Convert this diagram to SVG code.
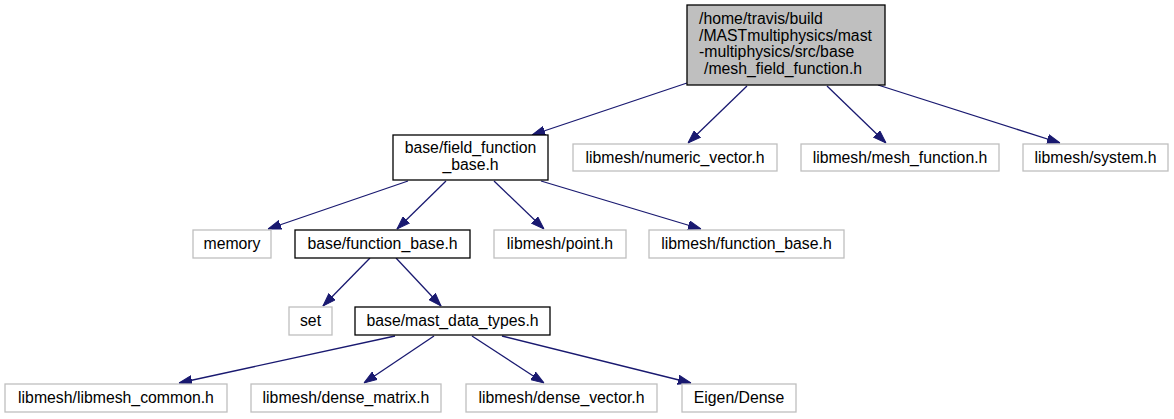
<svg xmlns="http://www.w3.org/2000/svg" width="1174" height="419" viewBox="0 0 1174 419">
<style>
text{font-family:"Liberation Sans",Arial,sans-serif;font-size:15.8px;fill:#000}
.c text{text-anchor:middle}
.g rect{fill:#fff;stroke:#bfbfbf;stroke-width:1.3}
.b rect{fill:#fff;stroke:#000;stroke-width:1.3}
.r rect{fill:#bfbfbf;stroke:#000;stroke-width:1.3}
.e path{fill:none;stroke:#191970;stroke-width:1.3}
</style>
<defs>
<marker id="ah" markerWidth="13" markerHeight="10" refX="13" refY="5" orient="auto" markerUnits="userSpaceOnUse">
<path d="M0,0.5 L13,5 L0,9.5 Z" fill="#191970" stroke="#191970"/>
</marker>
</defs>
<g id="edges" class="e">
<path d="M687,83 L532,135" marker-end="url(#ah)"/>
<path d="M747,86 L688,143" marker-end="url(#ah)"/>
<path d="M827,86 L886,143" marker-end="url(#ah)"/>
<path d="M878,85 L1060,143" marker-end="url(#ah)"/>
<path d="M408,181 L268,229" marker-end="url(#ah)"/>
<path d="M446,181 L397,229" marker-end="url(#ah)"/>
<path d="M494,181 L544,229" marker-end="url(#ah)"/>
<path d="M541,181 L701,229" marker-end="url(#ah)"/>
<path d="M370,258 L323,306" marker-end="url(#ah)"/>
<path d="M396,258 L441,306" marker-end="url(#ah)"/>
<path d="M395,336 L179,383" marker-end="url(#ah)"/>
<path d="M434,336 L364,383" marker-end="url(#ah)"/>
<path d="M472,336 L544,383" marker-end="url(#ah)"/>
<path d="M502,336 L691,383" marker-end="url(#ah)"/>
</g>
<g id="root" class="r">
<rect x="687" y="5" width="198" height="80"/>
<text x="699" y="24">/home/travis/build</text>
<text x="699" y="41">/MASTmultiphysics/mast</text>
<text x="699" y="57">-multiphysics/src/base</text>
<text x="704" y="74">/mesh_field_function.h</text>
</g>
<g id="field_function_base" class="b c">
<rect x="393" y="135" width="155" height="45"/>
<text x="470.5" y="153">base/field_function</text>
<text x="470.5" y="170">_base.h</text>
</g>
<g id="numeric_vector" class="g c">
<rect x="573" y="144" width="204" height="27"/>
<text x="675" y="163">libmesh/numeric_vector.h</text>
</g>
<g id="mesh_function" class="g c">
<rect x="801" y="144" width="198" height="27"/>
<text x="900" y="163">libmesh/mesh_function.h</text>
</g>
<g id="system" class="g c">
<rect x="1023" y="144" width="145" height="27"/>
<text x="1095.5" y="163">libmesh/system.h</text>
</g>
<g id="memory" class="g c">
<rect x="193" y="230" width="78" height="28"/>
<text x="232" y="249">memory</text>
</g>
<g id="function_base" class="b c">
<rect x="295" y="230" width="175" height="28"/>
<text x="382.5" y="249">base/function_base.h</text>
</g>
<g id="point" class="g c">
<rect x="494" y="230" width="132" height="28"/>
<text x="560" y="249">libmesh/point.h</text>
</g>
<g id="libmesh_function_base" class="g c">
<rect x="649" y="230" width="195" height="28"/>
<text x="746.5" y="249">libmesh/function_base.h</text>
</g>
<g id="set" class="g c">
<rect x="289" y="307" width="43" height="28"/>
<text x="310.5" y="326">set</text>
</g>
<g id="mast_data_types" class="b c">
<rect x="355" y="307" width="195" height="28"/>
<text x="452.5" y="326">base/mast_data_types.h</text>
</g>
<g id="libmesh_common" class="g c">
<rect x="5" y="384" width="222" height="28"/>
<text x="116" y="403">libmesh/libmesh_common.h</text>
</g>
<g id="dense_matrix" class="g c">
<rect x="251" y="384" width="190" height="28"/>
<text x="346" y="403">libmesh/dense_matrix.h</text>
</g>
<g id="dense_vector" class="g c">
<rect x="466" y="384" width="191" height="28"/>
<text x="561.5" y="403">libmesh/dense_vector.h</text>
</g>
<g id="eigen_dense" class="g c">
<rect x="682" y="384" width="114" height="28"/>
<text x="739" y="403">Eigen/Dense</text>
</g>
</svg>
